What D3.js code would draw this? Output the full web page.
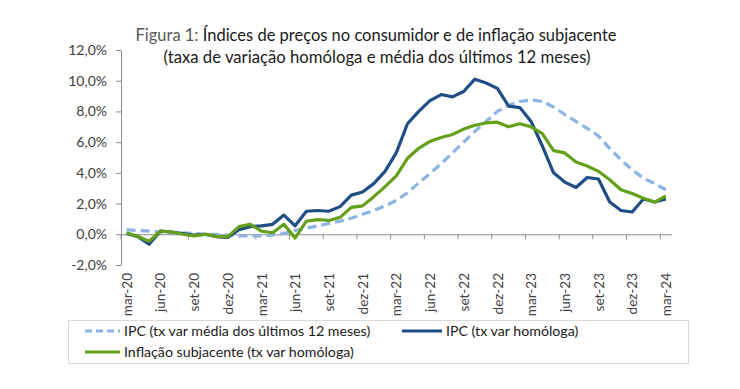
<!DOCTYPE html>
<html>
<head>
<meta charset="utf-8">
<script src="https://cdn.jsdelivr.net/npm/d3@7"></script>
<style>
  body { margin: 0; background: #fff; }
  text { font-family: Lato, "Open Sans", sans-serif; }
</style>
</head>
<body>
<div id="chart"></div>
<script>
// meses (eixo das categorias)
const months = [
  "mar-20","abr-20","mai-20","jun-20","jul-20","ago-20","set-20","out-20","nov-20","dez-20",
  "jan-21","fev-21","mar-21","abr-21","mai-21","jun-21","jul-21","ago-21","set-21","out-21","nov-21","dez-21",
  "jan-22","fev-22","mar-22","abr-22","mai-22","jun-22","jul-22","ago-22","set-22","out-22","nov-22","dez-22",
  "jan-23","fev-23","mar-23","abr-23","mai-23","jun-23","jul-23","ago-23","set-23","out-23","nov-23","dez-23",
  "jan-24","fev-24","mar-24"
];

// IPC - média dos últimos 12 meses
const ipcMedia12 = [
  0.30, 0.25, 0.20, 0.15, 0.10, 0.10, 0.05, 0.00, 0.00, -0.05,
  -0.10, -0.10, -0.10, -0.05, 0.05, 0.25, 0.40, 0.55, 0.70, 0.85, 1.05, 1.30,
  1.55, 1.85, 2.20, 2.70, 3.35, 3.95, 4.60, 5.30, 6.00, 6.70, 7.35, 8.00,
  8.40, 8.65, 8.75, 8.65, 8.30, 7.80, 7.35, 6.90, 6.40, 5.60, 4.85, 4.20,
  3.65, 3.30, 2.90
];

// IPC - taxa de variação homóloga
const ipcHomologa = [
  0.05, -0.15, -0.65, 0.20, 0.15, 0.05, -0.05, 0.00, -0.15, -0.20,
  0.30, 0.50, 0.55, 0.65, 1.25, 0.55, 1.50, 1.55, 1.50, 1.80, 2.55, 2.75,
  3.30, 4.10, 5.30, 7.20, 8.00, 8.70, 9.10, 8.95, 9.30, 10.10, 9.85, 9.50,
  8.35, 8.25, 7.35, 5.75, 4.00, 3.40, 3.05, 3.70, 3.60, 2.10, 1.55, 1.45,
  2.30, 2.10, 2.30
];

// inflação subjacente - taxa de variação homóloga
const subjacente = [
  0.10, -0.15, -0.45, 0.20, 0.15, 0.00, -0.10, 0.00, -0.15, -0.15,
  0.50, 0.65, 0.20, 0.10, 0.65, -0.25, 0.85, 0.95, 0.90, 1.10, 1.75, 1.85,
  2.45, 3.10, 3.80, 4.95, 5.60, 6.05, 6.30, 6.50, 6.85, 7.10, 7.25, 7.30,
  7.00, 7.20, 7.00, 6.55, 5.45, 5.30, 4.70, 4.45, 4.10, 3.55, 2.90, 2.65,
  2.35, 2.10, 2.50
];

const yTicks = [-2, 0, 2, 4, 6, 8, 10, 12];

const legendLabels = [
  "IPC (tx var média dos últimos 12 meses)",
  "IPC (tx var homóloga)",
  "Inflação subjacente (tx var homóloga)"
];

const width = 740, height = 389;

const svg = d3.select("#chart")
  .append("svg")
  .attr("width", width)
  .attr("height", height);

svg.append("rect").attr("width", width).attr("height", height).attr("fill", "#fff");

// titulo
const title = svg.append("text")
  .attr("x", 376)
  .attr("y", 41)
  .attr("text-anchor", "middle")
  .style("font-size", "17.5px")
  .attr("textLength", 481)
  .attr("lengthAdjust", "spacingAndGlyphs");
title.append("tspan").attr("fill", "#595959").text("Figura 1: ");
title.append("tspan").attr("fill", "#1a1a1a").text("Índices de preços no consumidor e de inflação subjacente");

svg.append("text")
  .attr("x", 377)
  .attr("y", 63)
  .attr("text-anchor", "middle")
  .attr("fill", "#1a1a1a")
  .style("font-size", "17.5px")
  .attr("textLength", 427)
  .attr("lengthAdjust", "spacingAndGlyphs")
  .text("(taxa de variação homóloga e média dos últimos 12 meses)");

// escalas
const x = d3.scaleBand()
  .domain(months)
  .range([121, 671.5]);

const y = d3.scaleLinear()
  .domain([-2, 12])
  .range([265, 50]);

const bw = x.bandwidth();
const every3 = months.filter((m, i) => i % 3 === 0);

// eixo Y
const yAxis = svg.append("g")
  .attr("transform", "translate(121,0)")
  .call(d3.axisLeft(y)
    .tickValues(yTicks)
    .tickSize(5)
    .tickSizeOuter(0)
    .tickFormat(d => d.toFixed(1).replace(".", ",") + "%"));
yAxis.select(".domain").attr("stroke", "#8c8c8c");
yAxis.selectAll(".tick line").attr("stroke", "#8c8c8c");
yAxis.selectAll(".tick text")
  .attr("x", -14)
  .attr("fill", "#404040")
  .style("font-size", "14px")
  .style("font-family", "Lato, sans-serif");

// eixo X (linha no zero, marcas entre categorias)
const xAxis = svg.append("g")
  .attr("transform", "translate(0," + y(0) + ")")
  .call(d3.axisBottom(x)
    .tickValues(every3)
    .tickSize(5)
    .tickSizeOuter(0)
    .tickFormat(""));
xAxis.select(".domain").attr("stroke", "#8c8c8c");
xAxis.selectAll(".tick line")
  .attr("stroke", "#8c8c8c")
  .attr("transform", "translate(" + (-bw / 2) + ",0)");

// etiquetas do eixo X, em baixo
const xLabels = svg.append("g")
  .attr("transform", "translate(0,273)")
  .call(d3.axisBottom(x).tickValues(every3).tickSize(0));
xLabels.select(".domain").remove();
xLabels.selectAll(".tick text")
  .attr("transform", "rotate(-90)")
  .attr("text-anchor", "end")
  .attr("x", 0)
  .attr("y", 0)
  .attr("dx", 0)
  .attr("dy", "0.38em")
  .attr("fill", "#404040")
  .style("font-size", "13.5px")
  .style("font-family", "Lato, sans-serif");

// linhas
const line = d3.line()
  .x((d, i) => x(months[i]) + bw / 2)
  .y(d => y(d));

svg.append("path")
  .datum(ipcMedia12)
  .attr("fill", "none")
  .attr("stroke", "#8db4e2")
  .attr("stroke-width", 3.2)
  .attr("stroke-dasharray", "9,5")
  .attr("d", line);

svg.append("path")
  .datum(ipcHomologa)
  .attr("fill", "none")
  .attr("stroke", "#1f4e85")
  .attr("stroke-width", 3.2)
  .attr("stroke-linejoin", "round")
  .attr("d", line);

svg.append("path")
  .datum(subjacente)
  .attr("fill", "none")
  .attr("stroke", "#64a01a")
  .attr("stroke-width", 3.2)
  .attr("stroke-linejoin", "round")
  .attr("d", line);

// legenda
const legend = svg.append("g");
legend.append("rect")
  .attr("x", 68.5).attr("y", 320.5)
  .attr("width", 620).attr("height", 43)
  .attr("fill", "none")
  .attr("stroke", "#d9d9d9");

const legendItems = [
  { label: legendLabels[0], color: "#8db4e2", dash: "7,4", lx: 85, len: 35, ly: 331 },
  { label: legendLabels[1], color: "#1f4e85", dash: null, lx: 402, len: 40, ly: 331 },
  { label: legendLabels[2], color: "#64a01a", dash: null, lx: 85, len: 35, ly: 352 }
];

legendItems.forEach(d => {
  legend.append("line")
    .attr("x1", d.lx).attr("x2", d.lx + d.len)
    .attr("y1", d.ly).attr("y2", d.ly)
    .attr("stroke", d.color)
    .attr("stroke-width", 3.2)
    .attr("stroke-dasharray", d.dash);
  legend.append("text")
    .attr("x", d.lx + d.len + 4)
    .attr("y", d.ly)
    .attr("dy", "0.36em")
    .attr("fill", "#1a1a1a")
    .style("font-size", "14.2px")
    .text(d.label);
});
</script>
</body>
</html>
